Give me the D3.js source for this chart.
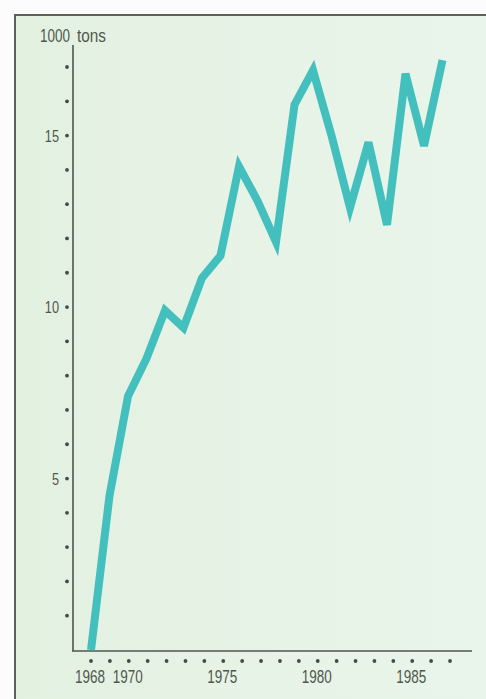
<!DOCTYPE html>
<html>
<head>
<meta charset="utf-8">
<script src="https://cdn.jsdelivr.net/npm/d3@7"></script>
<style>
html,body{margin:0;padding:0;background:#fbfcfb;}
svg{display:block;}
text{font-family:"Liberation Sans",Arial,sans-serif;fill:#51574f;}
</style>
</head>
<body>
<script>
const years = [1968,1969,1970,1971,1972,1973,1974,1975,1976,1977,1978,1979,1980,1981,1982,1983,1984,1985,1986,1987];
const values = [0,4.5,7.4,8.5,9.9,9.4,10.85,11.5,14.1,13.1,11.9,15.9,16.9,15.0,12.9,14.8,12.4,16.8,14.7,17.2];
const yDotValues = [1,2,3,4,5,6,7,8,9,10,11,12,13,14,15,16,17];
const yLabelValues = [5,10,15];
const xLabelYears = [1968,1970,1975,1980,1985];
const unitWords = ["1000","tons"];

const W = 486, H = 699;
const SX = 0.75;
const svg = d3.select("body").append("svg").attr("width", W).attr("height", H);

svg.append("rect").attr("x",0).attr("y",0).attr("width",W).attr("height",H).attr("fill","#fbfcfb");
const grad = svg.append("defs").append("linearGradient").attr("id","bg").attr("x1","0").attr("x2","1").attr("y1","0").attr("y2","0");
grad.append("stop").attr("offset","0").attr("stop-color","#e3f1e1");
grad.append("stop").attr("offset","1").attr("stop-color","#e9f5ea");
svg.append("rect").attr("x",15).attr("y",15).attr("width",W-15).attr("height",H-15).attr("fill","url(#bg)");
svg.append("path").attr("d",`M15,${H} L15,15 L${W},15`).attr("fill","none").attr("stroke","#5b615b").attr("stroke-width",2);

const xTick = d3.scaleLinear().domain([1968,1987]).range([91,450]);
const xLine = d3.scaleLinear().domain([1968,1987]).range([91,442.5]);
const y = d3.scaleLinear().domain([0,17]).range([650,67]);

svg.append("line").attr("x1",73).attr("x2",73).attr("y1",45).attr("y2",y(0)+1)
  .attr("stroke","#4f554f").attr("stroke-width",1.6);
svg.append("line").attr("x1",72).attr("x2",472).attr("y1",y(0)+1).attr("y2",y(0)+1)
  .attr("stroke","#4f554f").attr("stroke-width",1.6);

svg.append("g").selectAll("circle").data(yDotValues).join("circle")
  .attr("cx",67).attr("cy",d=>y(d)).attr("r",1.9).attr("fill","#464b46");
svg.append("g").selectAll("text").data(yLabelValues).join("text")
  .attr("transform",d=>`translate(59,${y(d)}) scale(${SX},1)`)
  .attr("dy","0.36em").attr("text-anchor","end")
  .attr("font-size",17).text(d=>d);

svg.append("g").selectAll("circle").data(years).join("circle")
  .attr("cx",d=>xTick(d)).attr("cy",661).attr("r",1.9).attr("fill","#464b46");
svg.append("g").selectAll("text").data(xLabelYears).join("text")
  .attr("transform",d=>`translate(${xTick(d)-1},683) scale(${SX},1)`)
  .attr("text-anchor","middle")
  .attr("font-size",18).text(d=>d);

svg.append("text").attr("transform","translate(40,42) scale(0.75,1)").attr("font-size",18).text(unitWords[0]);
svg.append("text").attr("transform","translate(77,42) scale(0.85,1)").attr("font-size",18).text(unitWords[1]);

const line = d3.line().x((d,i)=>xLine(years[i])).y(d=>y(d));
svg.append("path").datum(values).attr("d",line)
  .attr("fill","none").attr("stroke","#43bfbd").attr("stroke-width",8)
  .attr("stroke-linejoin","miter").attr("stroke-linecap","butt");
</script>
</body>
</html>
